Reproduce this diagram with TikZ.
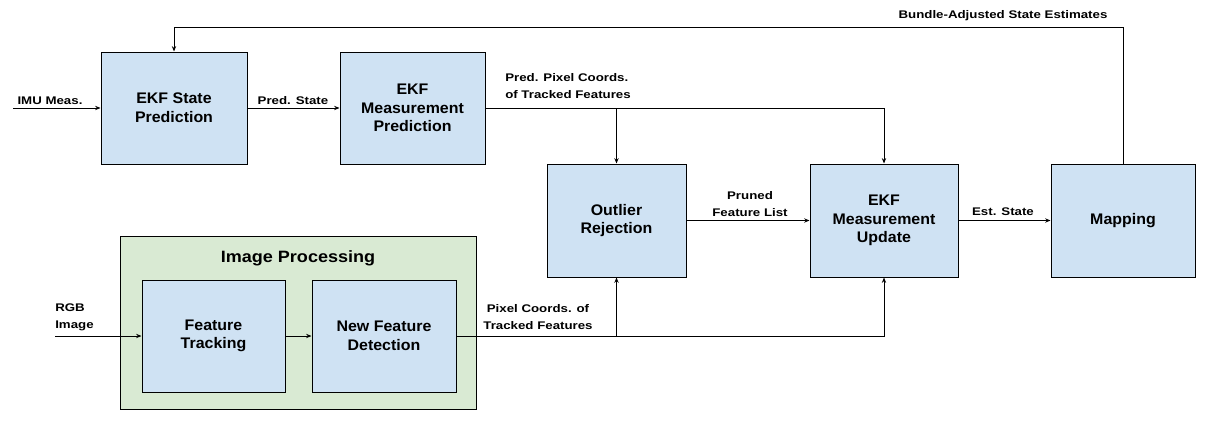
\documentclass[tikz,border=0pt]{standalone}
\usepackage{fontspec}
\setmainfont{Liberation Sans}
\newfontfamily\lblfont[FakeStretch=1.2]{Liberation Sans}
\newfontfamily\boxfont[FakeStretch=1.04]{Liberation Sans}
\newfontfamily\ttlfont[FakeStretch=1.1]{Liberation Sans}
\usetikzlibrary{arrows.meta}
\definecolor{boxblue}{HTML}{CFE2F3}
\definecolor{boxgreen}{HTML}{D9EAD3}
\begin{document}
\begin{tikzpicture}[x=0.75pt,y=-0.75pt,
  sz/.style 2 args={minimum width=#1*0.75pt,minimum height=#2*0.75pt},
  blk/.style={draw=black,line width=0.75pt,fill=boxblue,inner sep=0pt,align=center,font=\boxfont\bfseries\fontsize{11.5}{14}\selectfont},
  grp/.style={draw=black,line width=0.75pt,fill=boxgreen,inner sep=0pt},
  lbl/.style={inner sep=0pt,align=center,font=\lblfont\bfseries\fontsize{8.3}{12.5}\selectfont},
  arr/.style={draw=black,line width=0.75pt,-{Stealth[length=4pt,width=3.2pt]}}]
\useasboundingbox (0,0) rectangle (1207,421);
% group
\node[grp,sz={356}{173}] (grp) at (298,322.5) {};
\node[inner sep=0pt,font=\ttlfont\bfseries\fontsize{12.3}{14}\selectfont] (title) at (298,258) {Image Processing};
% blocks
\node[blk,sz={146}{112}] (sp) at (174,108) {EKF State\\Prediction};
\node[blk,sz={145}{112}] (mp) at (412.5,108) {EKF\\Measurement\\Prediction};
\node[blk,sz={139}{113}] (or) at (616.5,220.5) {Outlier\\Rejection};
\node[blk,sz={148}{113}] (mu) at (884,220.5) {EKF\\Measurement\\Update};
\node[blk,sz={144}{113}] (map) at (1123,220.5) {Mapping};
\node[blk,sz={143}{112}] (ft) at (213.5,336) {Feature\\Tracking};
\node[blk,sz={144}{112}] (nfd) at (384,336) {New Feature\\Detection};
% free ends
\coordinate (imu) at (13,108);
\coordinate (rgb) at (55,336);
\coordinate (top) at (600,27);
% connectors
\draw[arr] (imu) -- (sp.west);
\draw[arr] (sp.east) -- (mp.west);
\draw[arr] (mp.east) -| (mu.north);
\draw[arr] (mp.east -| or.north) -- (or.north);
\draw[arr] (or.east) -- (mu.west);
\draw[arr] (mu.east) -- (map.west);
\draw[arr] (map.north) -- (map.north |- top) -| (sp.north);
\draw[arr] (rgb) -- (ft.west);
\draw[arr] (ft.east) -- (nfd.west);
\draw[arr] (nfd.east) -| (mu.south);
\draw[arr] (nfd.east -| or.south) -- (or.south);
% labels
\node[lbl] (l1) at (50,101) {IMU Meas.};
\node[lbl] (l2) at (293,101) {Pred. State};
\node[lbl,anchor=west,align=left] (l3) at (505,86) {Pred. Pixel Coords.\\of Tracked Features};
\node[lbl] (l4) at (1003,16) {Bundle-Adjusted State Estimates};
\node[lbl] (l5) at (750,204) {Pruned\\Feature List};
\node[lbl] (l6) at (1003,212) {Est. State};
\node[lbl,anchor=west,align=left] (l7) at (55,317) {RGB\\Image};
\node[lbl] (l8) at (538,317) {Pixel Coords. of\\Tracked Features};
\end{tikzpicture}
\end{document}
